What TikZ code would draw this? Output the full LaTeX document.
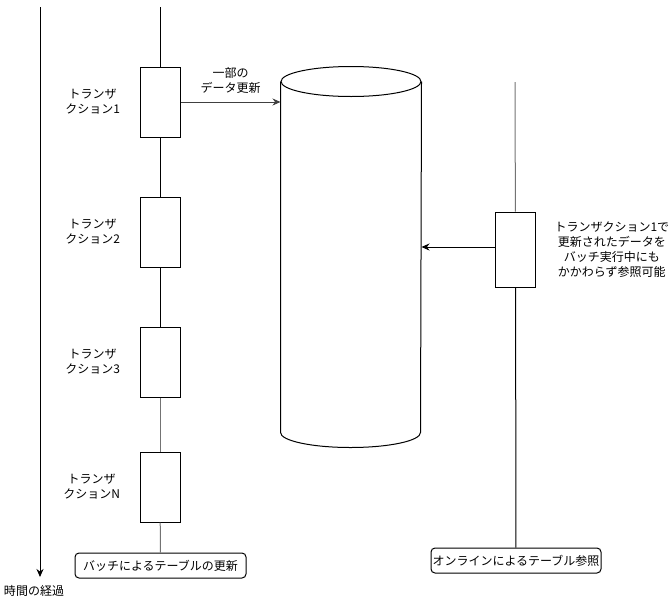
\documentclass[tikz,border=0pt]{standalone}
\usepackage{fontspec}
\setmainfont{Noto Sans CJK JP}
\usetikzlibrary{positioning, arrows.meta}
\tikzset{tx node/.style={rectangle, draw, minimum width=40pt, minimum height=70pt, inner sep=0pt},
  side label/.style={align=center, inner sep=0pt},
  lane label/.style={rectangle, rounded corners=4pt, draw, minimum height=25pt, inner sep=2pt},
  faint/.style={draw=black!55},}

\begin{document}
\begin{tikzpicture}[x=1pt, y=-1pt, thick, line width=1pt, >={Stealth[length=8pt, width=7pt]}, font=\fontsize{12pt}{15pt}\selectfont]
        \useasboundingbox (0,0) rectangle (671,608);
        % Nodes
        \coordinate (t0) at (40,7);
        \coordinate (t1) at (40,577);
        \coordinate (b0) at (160,7);
        \coordinate (o0) at (515,82);
        \node[tx node] (1) at (160,102) {};
        \node[tx node] (2) at (160,232) {};
        \node[tx node] (3) at (160,362) {};
        \node[tx node] (4) at (160,487) {};
        \node[lane label, minimum width=171pt] (batch) at (160.5,565.5) {バッチによるテーブルの更新};
        \node[tx node, minimum height=75pt] (ref) at (515.5,249.5) {};
        \node[lane label, minimum width=170pt, inner sep=0pt] (online) at (516,560.5) {オンラインによるテーブル参照};
        \node[minimum width=140pt, minimum height=350pt, inner sep=0pt] (db) at (351,257) {};
        \node[side label] [left = 19pt of 1] {トランザ\\クション1};
        \node[side label] [left = 19pt of 2] {トランザ\\クション2};
        \node[side label] [left = 19pt of 3] {トランザ\\クション3};
        \node[side label] [left = 19pt of 4] {トランザ\\クションN};
        \node[side label] [right = 18pt of ref] {トランザクション1で\\更新されたデータを\\バッチ実行中にも\\かかわらず参照可能};
        \node[side label] [below = 8pt of t1, xshift=-6pt] {時間の経過};
        % Database
        \draw (db.north west) -- (db.south west) arc[start angle=180, end angle=0, x radius=70, y radius=15] -- (db.north east);
        \draw (db.north) ellipse [x radius=70, y radius=15];
        % Paths
        \draw[->] (t0) -- (t1);
        \path[draw]
        (b0) edge (1)
        (1) edge (2)
        (2) edge (3)
        (3) edge[faint] (4)
        (4) edge[faint] (batch)
        (o0) edge[faint] (ref)
        (ref) edge (online);
        \draw[->, draw=black!75] (1.east) -- node[side label, above=8pt, text=black] {一部の\\データ更新} (db.west |- 1.east);
        \draw[->] (ref.west |- 0,247) -- (db.east |- 0,247);
    \end{tikzpicture}
\end{document}
